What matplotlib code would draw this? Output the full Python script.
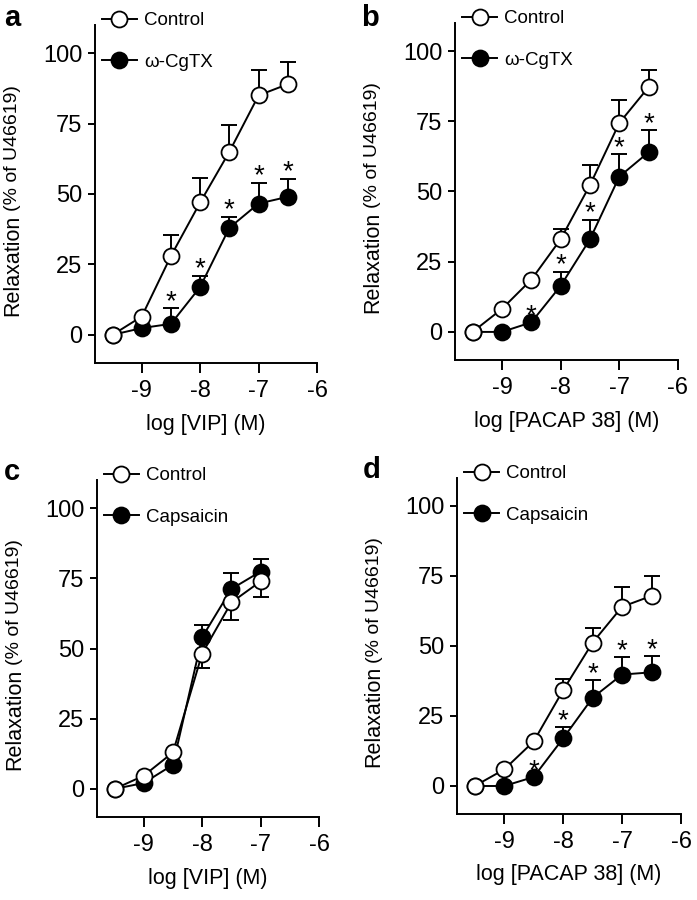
import matplotlib
matplotlib.use('Agg')
import matplotlib.pyplot as plt

plt.rcParams['font.family'] = ['Liberation Sans', 'DejaVu Sans']

# log concentrations
x_full = [-9.5, -9, -8.5, -8, -7.5, -7, -6.5]
x_short = [-9.5, -9, -8.5, -8, -7.5, -7]

# a: VIP, control vs w-CgTX
a_ctrl = [0, 6.5, 28, 47, 65, 85, 89]
a_ctrl_err = [0, 0, 7.6, 8.8, 9.5, 9, 8]
a_trt = [0, 2.4, 3.9, 17, 38, 46.6, 49]
a_trt_err = [0, 0, 5.6, 4, 4, 7.4, 6.5]
a_star = [0, 0, 1, 1, 1, 1, 1]

# b: PACAP 38, control vs w-CgTX
b_ctrl = [0, 8.2, 18.6, 33, 52.3, 74.4, 87.2]
b_ctrl_err = [0, 0, 0, 3.6, 7.1, 8.1, 6.2]
b_trt = [0, 0, 3.4, 16.4, 33, 55.3, 64]
b_trt_err = [0, 0, 0, 5.1, 7, 8, 7.8]
b_star = [0, 0, 1, 1, 1, 1, 1]

# c: VIP, control vs capsaicin (control errors drawn downward)
c_ctrl = [0, 4.7, 13, 48.2, 66.4, 73.9]
c_ctrl_err = [0, 0, 0, 5, 6.4, 5.7]
c_trt = [0, 2.1, 8.6, 54, 71.2, 77.4]
c_trt_err = [0, 0, 0, 4.2, 5.6, 4.6]
c_star = [0, 0, 0, 0, 0, 0]

# d: PACAP 38, control vs capsaicin
d_ctrl = [0, 5.9, 15.9, 34.2, 51.2, 64, 67.9]
d_ctrl_err = [0, 0, 0, 4.1, 5.1, 7, 7]
d_trt = [0, 0, 3.2, 17, 31.5, 39.8, 40.6]
d_trt_err = [0, 0, 0, 3.9, 6.3, 6.2, 5.9]
d_star = [0, 0, 1, 1, 1, 1, 1]

W, H = 697, 900
fig = plt.figure(figsize=(W / 100, H / 100), dpi=100)


def make_ax(l, r, t, b):
    return fig.add_axes([l / W, 1 - b / H, (r - l) / W, (b - t) / H])


panels = [
    ('a', make_ax(95, 317, 25, 363), x_full, a_ctrl, a_ctrl_err, a_trt, a_trt_err, a_star,
     'ω-CgTX', 'log [VIP] (M)', False),
    ('b', make_ax(455, 678, 23, 360), x_full, b_ctrl, b_ctrl_err, b_trt, b_trt_err, b_star,
     'ω-CgTX', 'log [PACAP 38] (M)', False),
    ('c', make_ax(97, 319, 480, 817), x_short, c_ctrl, c_ctrl_err, c_trt, c_trt_err, c_star,
     'Capsaicin', 'log [VIP] (M)', True),
    ('d', make_ax(457, 681, 478, 814), x_full, d_ctrl, d_ctrl_err, d_trt, d_trt_err, d_star,
     'Capsaicin', 'log [PACAP 38] (M)', False),
]
letter_pos = {'a': (4, 4), 'b': (361, 4), 'c': (4, 458), 'd': (363, 456)}

lw = 1.4
for name, ax, x, ctrl, ctrl_err, trt, trt_err, star, trt_name, xlab, ctrl_down in panels:
    zeros = [0] * len(x)
    # error bars (one-sided)
    ax.errorbar(x, trt, yerr=[zeros, trt_err], fmt='none', ecolor='black',
                elinewidth=lw, capsize=6, capthick=lw, zorder=2)
    if ctrl_down:
        cerr = [ctrl_err, zeros]
    else:
        cerr = [zeros, ctrl_err]
    ax.errorbar(x, ctrl, yerr=cerr, fmt='none', ecolor='black',
                elinewidth=lw, capsize=6, capthick=lw, zorder=2)
    h2, = ax.plot(x, trt, '-o', color='black', lw=lw, ms=11.5, mfc='black',
                  mec='black', mew=1.3, zorder=3, label=trt_name)
    h1, = ax.plot(x, ctrl, '-o', color='black', lw=lw, ms=11.5, mfc='white',
                  mec='black', mew=1.3, zorder=4, label='Control')
    for xi, yi, ei, s in zip(x, trt, trt_err, star):
        if s:
            ax.annotate('*', (xi, yi + ei), xytext=(0, -5), textcoords='offset points',
                        ha='center', va='bottom', fontsize=20)

    ax.set_xlim(-9.8, -6)
    ax.set_ylim(-10, 110)
    ax.set_xticks([-9, -8, -7, -6])
    ax.set_xticklabels(['-9', '-8', '-7', '-6'])
    ax.set_yticks([0, 25, 50, 75, 100])
    for sp in ['top', 'right']:
        ax.spines[sp].set_visible(False)
    for sp in ['left', 'bottom']:
        ax.spines[sp].set_linewidth(lw)
    ax.tick_params(axis='both', direction='out', width=lw, labelsize=17)
    ax.tick_params(axis='y', length=5, pad=4)
    ax.tick_params(axis='x', length=7, pad=5)

    ax.set_xlabel(xlab, fontsize=15.5)
    ax.xaxis.set_label_coords(0.5, -0.15)
    ax.text(-0.37, 0.14, 'Relaxation', rotation=90, ha='center', va='bottom',
            fontsize=15.5, transform=ax.transAxes)
    ax.text(-0.37, 0.45, '(% of U46619)', rotation=90, ha='center', va='bottom',
            fontsize=14, transform=ax.transAxes)

    ax.legend(handles=[h1, h2], loc='upper left', bbox_to_anchor=(0.03, 1.038),
              frameon=False, fontsize=13.5, borderpad=0, borderaxespad=0,
              handlelength=1.9, handletextpad=0.35, labelspacing=1.3, numpoints=1)

    lx, ly = letter_pos[name]
    fig.text(lx / W, 1 - ly / H, name, fontsize=21, fontweight='bold', ha='left', va='top')

fig.savefig('out.png', dpi=100)
